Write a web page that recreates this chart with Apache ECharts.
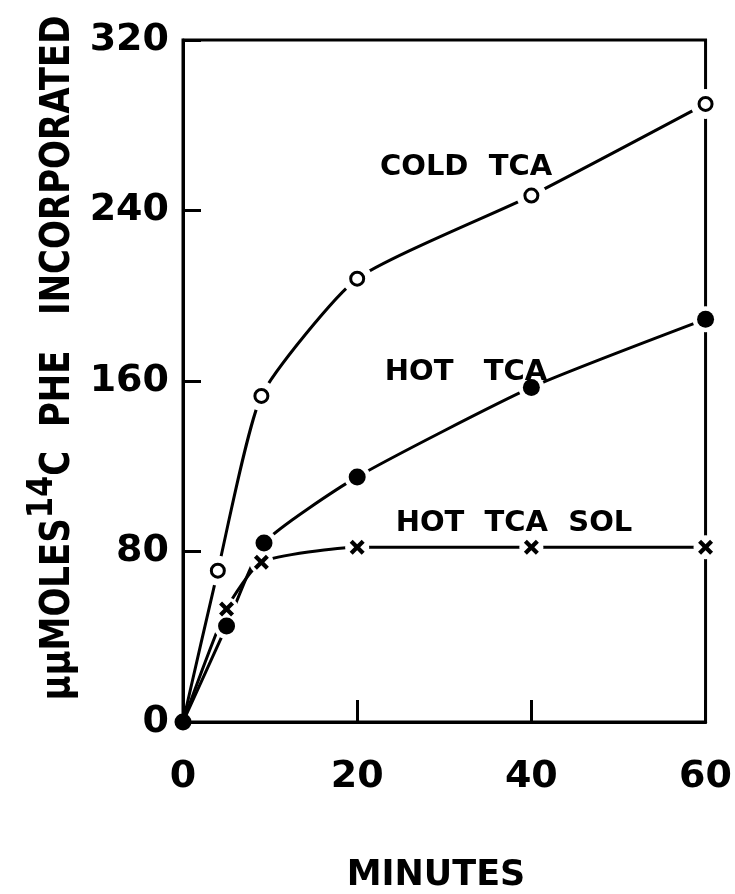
<!DOCTYPE html>
<html>
<head>
<meta charset="utf-8">
<script src="https://cdn.jsdelivr.net/npm/echarts@6/dist/echarts.min.js"></script>
<style>
html,body{margin:0;padding:0;background:#fff;}
#c{width:735px;height:894px;}
</style>
</head>
<body>
<div id="c"></div>
<script>
// ---- data ----
const xTicks = [0, 20, 40, 60];
const yTicks = [0, 80, 160, 240, 320];
const origin = [0, 0];
const coldMinutes = [4, 9, 20, 40, 60];
const coldValues  = [71, 153, 208, 247, 290];
const hotMinutes  = [0, 5, 9.3, 20, 40, 60];
const hotValues   = [0, 45, 84, 115, 157, 189];
const solMinutes  = [5, 9, 20, 40, 60];
const solValues   = [53, 75, 82, 82, 82];
const seriesNames = ['COLD  TCA', 'HOT   TCA', 'HOT  TCA  SOL'];
const labelAnchors = [[32.5, 260], [32.5, 164], [38, 93]];
const xTitle = 'MINUTES';

function pairs(xs, ys) { return xs.map((x, i) => [x, ys[i]]); }
function withOrigin(p) { return (p[0][0] === 0) ? p : [origin].concat(p); }

const cold = pairs(coldMinutes, coldValues);
const hot = pairs(hotMinutes, hotValues);
const sol = pairs(solMinutes, solValues);

const crossPath = 'path://M2,0L5,3L8,0L10,2L7,5L10,8L8,10L5,7L2,10L0,8L3,5L0,2Z';

const chart = echarts.init(document.getElementById('c'), null, {renderer: 'canvas'});

function lineSeries(data) {
  return {
    type: 'line', data: withOrigin(data), showSymbol: false, symbol: 'none',
    smooth: 0.18, z: 1,
    lineStyle: {color: '#000', width: 3}, silent: true
  };
}
function haloSeries(data, r) {
  return {
    type: 'custom', data: data.filter(p => p[0] !== 0), z: 6, silent: true, clip: false,
    renderItem: function (params, api) {
      const c = api.coord([api.value(0), api.value(1)]);
      return {type: 'circle', shape: {cx: c[0], cy: c[1], r: r}, style: {fill: '#ffffff', stroke: null}};
    }
  };
}

const option = {
  animation: false,
  backgroundColor: '#fff',
  grid: {left: 183, right: 26, top: 40, bottom: 172, show: true, borderColor: '#000', borderWidth: 3},
  xAxis: {
    type: 'value', min: xTicks[0], max: xTicks[xTicks.length - 1], interval: 20,
    axisLine: {show: true, lineStyle: {color: '#000', width: 3}},
    axisTick: {show: true, inside: true, length: 22, lineStyle: {color: '#000', width: 3}},
    axisLabel: {color: '#000', fontFamily: 'DejaVu Sans', fontWeight: 'bold', fontSize: 38, margin: 36},
    splitLine: {show: false}
  },
  yAxis: {
    type: 'value', min: yTicks[0], max: yTicks[yTicks.length - 1], interval: 80,
    axisLine: {show: true, lineStyle: {color: '#000', width: 3}},
    axisTick: {show: true, inside: true, length: 18, lineStyle: {color: '#000', width: 3}},
    axisLabel: {color: '#000', fontFamily: 'DejaVu Sans', fontWeight: 'bold', fontSize: 38, margin: 14},
    splitLine: {show: false}
  },
  series: [
    lineSeries(cold), lineSeries(hot), lineSeries(sol),
    haloSeries(cold, 15), haloSeries(hot, 13), haloSeries(sol, 12),
    {type: 'scatter', name: 'cold', data: cold, symbol: 'circle', symbolSize: 13, z: 8, clip: false,
     itemStyle: {color: '#fff', borderColor: '#000', borderWidth: 3, opacity: 1}},
    {type: 'scatter', name: 'hot', data: hot, symbol: 'circle', symbolSize: 17, z: 8, clip: false,
     itemStyle: {color: '#000', opacity: 1}},
    {type: 'scatter', name: 'sol', data: sol, symbol: crossPath, symbolSize: 15, z: 8, clip: false,
     itemStyle: {color: '#000', opacity: 1}}
  ]
};
chart.setOption(option);

const graphics = [];
seriesNames.forEach((n, i) => {
  const p = chart.convertToPixel({gridIndex: 0}, labelAnchors[i]);
  graphics.push({type: 'text', x: p[0], y: p[1], z: 10,
    style: {text: n, fill: '#000', font: 'bold 29px "DejaVu Sans"', align: 'center', verticalAlign: 'middle'}});
});
graphics.push({type: 'text', x: 436, y: 876, z: 10,
  style: {text: xTitle, fill: '#000', font: 'bold 35px "DejaVu Sans"', align: 'center', verticalAlign: 'middle'}});
graphics.push({type: 'text', x: 52, y: 358, rotation: Math.PI / 2, scaleX: 0.85, z: 10,
  style: {
    text: '{m|μμMOLES}{s|14}{c|C}{m|  PHE   INCORPORATED}',
    align: 'center', verticalAlign: 'middle', fill: '#000',
    rich: {
      m: {font: 'bold 40px "DejaVu Sans"', fill: '#000', lineHeight: 54, verticalAlign: 'bottom'},
      s: {font: 'bold 36px "DejaVu Sans"', fill: '#000', lineHeight: 54, verticalAlign: 'top'},
      c: {font: 'bold 40px "DejaVu Sans"', fill: '#000', lineHeight: 54, verticalAlign: 'bottom'}
    }
  }});
chart.setOption({graphic: graphics});
</script>
</body>
</html>
